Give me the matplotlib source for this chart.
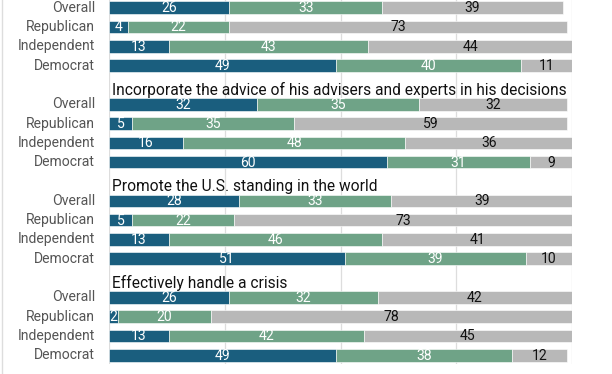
import matplotlib
matplotlib.use("Agg")
import matplotlib.pyplot as plt
from matplotlib.lines import Line2D

plt.rcParams['font.family'] = ['Roboto', 'DejaVu Sans']

titles = ["", "Incorporate the advice of his advisers and experts in his decisions",
          "Promote the U.S. standing in the world", "Effectively handle a crisis"]
groups = ["Overall", "Republican", "Independent", "Democrat"]
very = [[26, 4, 13, 49], [32, 5, 16, 60], [28, 5, 13, 51], [26, 2, 13, 49]]
somewhat = [[33, 22, 43, 40], [35, 35, 48, 31], [33, 22, 46, 39], [32, 20, 42, 38]]
notconf = [[39, 73, 44, 11], [32, 59, 36, 9], [39, 73, 41, 10], [42, 78, 45, 12]]

colors = ["#1a5e7e", "#6fa387", "#b8b8b8"]
txtcol = ["white", "white", "#111111"]

fig = plt.figure(figsize=(6.12, 3.74), dpi=100)
ax = fig.add_axes([109/612, 10/374, (572-109)/612, 364/374])
ax.set_xlim(0, 100)
ax.set_ylim(19.45, 0.6)
for s in ax.spines.values():
    s.set_visible(False)
ax.set_xticks([0, 25, 50, 75, 100])
ax.set_xticklabels([])
ax.tick_params(length=0)
ax.set_yticks([])
ax.grid(axis='x', color='#dddddd', linewidth=0.9)
ax.set_axisbelow(True)

h = 0.65
for g in range(4):
    if titles[g]:
        ax.text(0.55, g*5 + 0.25, titles[g], fontsize=11.2, va='center', ha='left', color='#111111')
    for r in range(4):
        y = g*5 + 1 + r
        vals = [very[g][r], somewhat[g][r], notconf[g][r]]
        left = 0
        for k, v in enumerate(vals):
            ax.barh(y, v, left=left, height=h, color=colors[k], edgecolor='white', linewidth=0.4)
            ax.text(left + v/2, y + 0.02, str(v), ha='center', va='center', fontsize=10.1, color=txtcol[k])
            left += v
        ax.text(-3.0, y, groups[r], ha='right', va='center', fontsize=10.1, color='#555555',
                clip_on=False)

fig.add_artist(Line2D([2/612, 2/612], [0, 1], color='#dddddd', linewidth=1.0, transform=fig.transFigure))
fig.savefig("out.png", dpi=100)
